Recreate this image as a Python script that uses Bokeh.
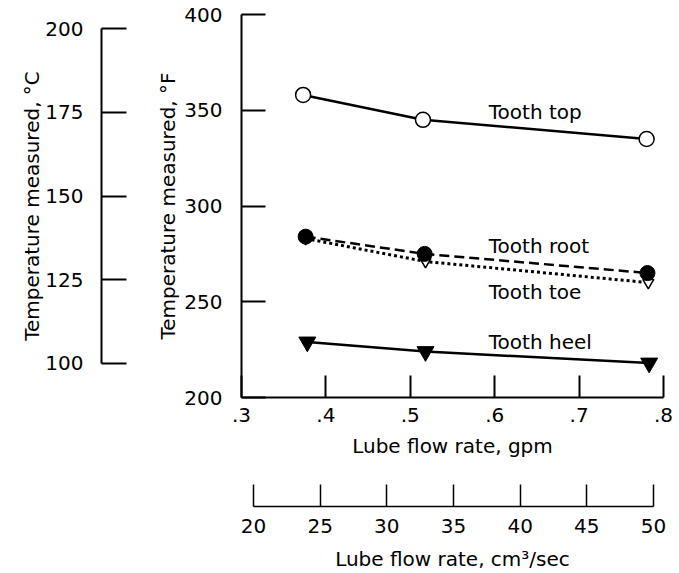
from bokeh.plotting import figure
from bokeh.models import Range1d, LinearAxis, FixedTicker, CustomJSTickFormatter
from bokeh.core.properties import value
from bokeh.embed import file_html
from bokeh.resources import INLINE

# ---- data ----
gpm_top = [0.373, 0.515, 0.780]
temp_top = [358, 345, 335]
gpm_root = [0.376, 0.517, 0.781]
temp_root = [284, 275, 265]
gpm_toe = [0.376, 0.518, 0.782]
temp_toe = [283, 271, 260]
gpm_heel = [0.378, 0.518, 0.783]
temp_heel = [229, 224, 218]

series_labels = ["Tooth top", "Tooth root", "Tooth toe", "Tooth heel"]
label_gpm = [0.593, 0.593, 0.593, 0.593]
label_temp = [349, 279, 255, 229]

gpm_ticks = [0.3, 0.4, 0.5, 0.6, 0.7, 0.8]
degF_ticks = [200, 250, 300, 350, 400]
degC_ticks = [100, 125, 150, 175, 200]
cm3_ticks = [20, 25, 30, 35, 40, 45, 50]

FONT = "DejaVu Sans"
FS = "20px"

p = figure(width=679, height=573, output_backend="svg", toolbar_location=None,
           x_axis_type=None, y_axis_type=None,
           x_range=Range1d(0.3, 0.8), y_range=Range1d(200, 400),
           min_border_left=241, min_border_right=16, min_border_top=14, min_border_bottom=0)
p.outline_line_color = None
p.background_fill_color = "white"
p.border_fill_color = "white"
p.xgrid.visible = False
p.ygrid.visible = False
p.extra_y_ranges = {"degC": Range1d(89.85, 204.18)}
p.extra_x_ranges = {"cm3": Range1d(19.1, 50.75)}


def style(ax, tick_in, lstand, astand, width=2):
    ax.axis_line_width = width
    ax.axis_line_color = "black"
    ax.major_tick_line_width = width
    ax.major_tick_line_color = "black"
    ax.major_tick_in = tick_in
    ax.major_tick_out = 0
    ax.minor_tick_line_color = None
    ax.major_label_text_font = FONT
    ax.major_label_text_font_size = FS
    ax.major_label_text_color = "black"
    ax.major_label_standoff = lstand
    ax.axis_label_text_font = FONT
    ax.axis_label_text_font_size = FS
    ax.axis_label_text_font_style = "normal"
    ax.axis_label_text_color = "black"
    ax.axis_label_standoff = astand


def spacer(n):
    # an empty axis whose only content is a blank label, used to separate stacked axes
    ax = LinearAxis(ticker=FixedTicker(ticks=[]), axis_label="\u00a0")
    ax.axis_line_color = None
    ax.major_tick_line_color = None
    ax.minor_tick_line_color = None
    ax.major_tick_in = 0
    ax.major_tick_out = 0
    ax.major_label_standoff = 0
    ax.axis_label_text_font_size = "2px"
    ax.axis_label_standoff = n - 3
    return ax


# left: deg F (inner), spacer, deg C (outer)
yF = LinearAxis(ticker=FixedTicker(ticks=degF_ticks), axis_label="Temperature measured, °F")
style(yF, 24, 19, 1)
p.add_layout(yF, "left")
p.add_layout(spacer(50), "left")
yC = LinearAxis(y_range_name="degC", ticker=FixedTicker(ticks=degC_ticks), bounds=(100, 200),
                axis_label="Temperature measured, °C")
style(yC, 25, 18, -2)
p.add_layout(yC, "left")

# bottom: gpm (inner), spacer, cm3/sec (outer)
xg = LinearAxis(ticker=FixedTicker(ticks=gpm_ticks), axis_label="Lube flow rate, gpm",
                formatter=CustomJSTickFormatter(code='return tick.toFixed(1).replace(/^0/, "");'))
style(xg, 22, 10, 9)
p.add_layout(xg, "below")
p.add_layout(spacer(44), "below")
xc = LinearAxis(x_range_name="cm3", ticker=FixedTicker(ticks=cm3_ticks), bounds=(20, 50),
                axis_label="Lube flow rate, cm³/sec")
style(xc, 22, 12, 11, width=1.5)
p.add_layout(xc, "below")

# series
p.line(gpm_top, temp_top, line_color="black", line_width=2.5)
p.scatter(gpm_top, temp_top, marker="circle", size=15, fill_color="white",
          line_color="black", line_width=1.5)

p.line(gpm_heel, temp_heel, line_color="black", line_width=2.5)
p.scatter(gpm_heel, temp_heel, marker="inverted_triangle", size=17, fill_color="black",
          line_color="black")

p.line(gpm_toe, temp_toe, line_color="black", line_width=3, line_dash="3 3")
p.scatter(gpm_toe, temp_toe, marker="inverted_triangle", size=11, fill_color="white",
          line_color="black", line_width=1.5)

p.line(gpm_root, temp_root, line_color="black", line_width=2.5, line_dash="10 5")
p.scatter(gpm_root, temp_root, marker="circle", size=15, fill_color="black",
          line_color="black")

p.text(x=label_gpm, y=label_temp, text=series_labels, text_font=value(FONT),
       text_font_size=FS, text_baseline="middle", text_align="left", text_color="black")

open("out.html", "w").write(file_html(p, INLINE))
